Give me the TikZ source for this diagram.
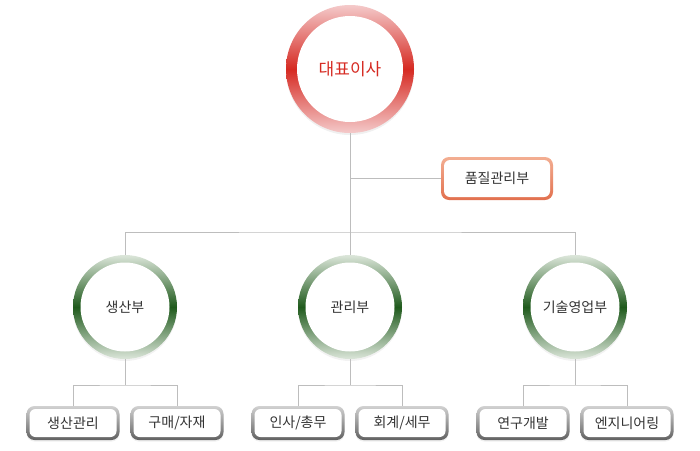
\documentclass[tikz,border=0pt]{standalone}
\usepackage{fontspec}
\newfontfamily\kr{Noto Sans CJK KR}
\usetikzlibrary{positioning,calc,shadows}
\definecolor{ceored}{HTML}{D62A22}
\definecolor{ceopink}{HTML}{F4CACA}
\definecolor{deptgreen}{HTML}{1F5A1C}
\definecolor{deptpale}{HTML}{DCE6DA}
\definecolor{qatop}{HTML}{F3AE92}
\definecolor{qabot}{HTML}{E2704E}
\definecolor{linkgray}{HTML}{BDBDBD}
\definecolor{txt}{HTML}{333333}

\begin{document}
\begin{tikzpicture}[x=1pt,y=-1pt,
   ring/.style n args={4}{circle,inner sep=0pt,outer sep=0pt,minimum size=#1,
     top color=#3,bottom color=#3,middle color=#4,
     path picture={\fill[white] (path picture bounding box.center) circle (#2);}},
   topring/.style={ring={128pt}{53pt}{ceopink}{ceored},font=\kr\fontsize{17}{20}\selectfont,text=ceored,
     drop shadow={opacity=0.12,shadow xshift=0pt,shadow yshift=-2pt}},
   deptring/.style={ring={104pt}{44.5pt}{deptpale}{deptgreen},font=\kr\fontsize{14}{17}\selectfont,text=txt,
     drop shadow={opacity=0.10,shadow xshift=0pt,shadow yshift=-2pt}},
   frame/.style n args={4}{rectangle,rounded corners=8pt,inner sep=0pt,outer sep=0pt,
     minimum width=#1,minimum height=#2,top color=#3,bottom color=#4,
     font=\kr\fontsize{14}{17}\selectfont,text=txt,
     path picture={\fill[white,rounded corners=6pt]
       ([shift={(3pt,3pt)}]path picture bounding box.south west) rectangle
       ([shift={(-3pt,-3pt)}]path picture bounding box.north east);}},
   qbox/.style={frame={112pt}{43pt}{qatop}{qabot}},
   tbox/.style={frame={93pt}{34pt}{black!18}{black!62},
     drop shadow={opacity=0.12,shadow xshift=0pt,shadow yshift=-1.5pt}},
   link/.style={draw=linkgray,line width=0.8pt}]
 \useasboundingbox (0,0) rectangle (700,450);
 % head and staff
 \node[topring] (ceo) at (350,69) {대표이사};
 \node[qbox] (qa) at (497,178.5) {품질관리부};
 % departments
 \node[deptring] (prod) at (125,307) {생산부};
 \node[deptring] (mgmt) at (350,307) {관리부};
 \node[deptring] (rnd) at (575,307) {기술영업부};
 % teams
 \node[tbox] (prod-a) at (73,423) {생산관리};
 \node[tbox] (prod-b) at (177,423) {구매/자재};
 \node[tbox] (mgmt-a) at (298,423) {인사/총무};
 \node[tbox] (mgmt-b) at (402,423) {회계/세무};
 \node[tbox] (rnd-a) at (523,423) {연구개발};
 \node[tbox] (rnd-b) at (627,423) {엔지니어링};
 % connectors
 \coordinate (bus) at (350,232);
 \draw[link] (ceo.south) -- (bus);
 \draw[link] (ceo.south |- qa.west) -- (qa.west);
 \draw[link] (prod.north) |- (bus) -| (rnd.north);
 \draw[link] (mgmt.north) -- (bus);
 \foreach \D in {prod,mgmt,rnd}
 {\draw[link] (\D.south) -- ++(0,26) coordinate (\D-j);
  \draw[link] (\D-a.north) |- (\D-j) -| (\D-b.north);}
\end{tikzpicture}
\end{document}
